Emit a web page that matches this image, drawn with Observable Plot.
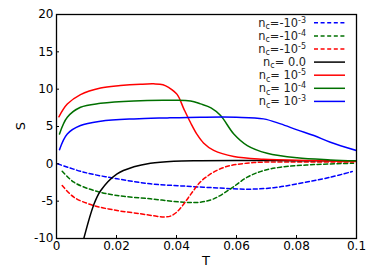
<!DOCTYPE html>
<html><head><meta charset="utf-8">
<script src="https://cdn.jsdelivr.net/npm/d3@7"></script>
<script src="https://cdn.jsdelivr.net/npm/@observablehq/plot@0.6"></script>
<style>body{margin:0;background:#fff}</style>
</head><body><div id="chart"></div><script>
// Data
const xTicks = [0, 0.02, 0.04, 0.06, 0.08, 0.1];
const yTicks = [-10, -5, 0, 5, 10, 15, 20];

const T_neg3 = [0.0004,0.0091,0.0202,0.0313,0.0413,0.0524,0.0636,0.0724,0.0802,0.0913,0.0986];
const S_neg3 = [0,-1.12,-2.0,-2.68,-2.95,-3.2,-3.4,-3.2,-2.68,-1.79,-1.03];
const T_neg4 = [0.0019,0.0058,0.0124,0.0202,0.0313,0.0424,0.048,0.0524,0.058,0.0636,0.069,0.0747,0.0858,0.099];
const S_neg4 = [-0.99,-2.46,-3.57,-4.24,-4.69,-5.14,-5.14,-4.69,-3.35,-1.79,-0.9,-0.45,-0.1,0.08];
const T_neg5 = [0.0019,0.0058,0.0124,0.0202,0.028,0.033,0.0358,0.038,0.040,0.042,0.044,0.046,0.048,0.0505,0.0524,0.055,0.058,0.0658,0.0747,0.099];
const S_neg5 = [-2.9,-4.47,-5.58,-6.25,-6.69,-7.0,-7.12,-7.0,-6.5,-5.6,-4.5,-3.4,-2.4,-1.6,-1.1,-0.6,-0.23,0.17,0.25,0.25];
const T_zero = [0.0091,0.0124,0.0147,0.0202,0.0258,0.0313,0.0391,0.048,0.06,0.08,0.1];
const S_zero = [-10,-5.5,-3.6,-1.34,-0.4,0.08,0.35,0.42,0.45,0.42,0.4];
const T_pos5 = [0.0008,0.0036,0.008,0.0147,0.0213,0.028,0.0324,0.0355,0.0375,0.0402,0.0424,0.0447,0.0469,0.049,0.0524,0.0591,0.069,0.0858,0.1];
const S_pos5 = [6.3,8.0,9.28,10.17,10.48,10.66,10.71,10.6,10.2,9.3,7.4,5.5,3.9,2.8,1.8,0.98,0.62,0.44,0.3];
const T_pos4 = [0.001,0.0036,0.008,0.0147,0.0258,0.0369,0.0447,0.048,0.0515,0.0547,0.0591,0.0636,0.0702,0.0802,0.0913,0.1];
const S_pos4 = [4.0,6.24,7.58,8.1,8.43,8.5,8.43,8.03,7.5,6.47,4.0,2.45,1.42,0.8,0.53,0.4];
const T_pos3 = [0.001,0.0036,0.008,0.0147,0.0258,0.0369,0.048,0.06,0.069,0.0747,0.0802,0.0858,0.0913,0.1];
const S_pos3 = [1.9,4.0,5.13,5.7,6.02,6.15,6.24,6.24,6.02,5.35,4.55,3.79,2.9,1.78];

const seriesT = [T_neg3, T_neg4, T_neg5, T_zero, T_pos5, T_pos4, T_pos3];
const seriesS = [S_neg3, S_neg4, S_neg5, S_zero, S_pos5, S_pos4, S_pos3];
const legendMain = ["=-10", "=-10", "=-10", "= 0.0", "= 10", "= 10", "= 10"];
const legendSup = ["-3", "-4", "-5", "", "-5", "-4", "-3"];
const colors = ["#0000ff", "#007000", "#ff0000", "#000000", "#ff0000", "#007000", "#0000ff"];
const dashed = [true, true, true, false, false, false, false];

const font = "DejaVu Sans, sans-serif";
const lineMarks = seriesT.map((T, i) => {
  const rows = T.map((t, j) => ({T: t, S: seriesS[i][j]}));
  return Plot.line(rows, {x: "T", y: "S", stroke: colors[i], strokeWidth: 1.5,
    strokeDasharray: dashed[i] ? "4,2.6" : null, curve: "catmull-rom", clip: true});
});

const W = 374, H = 280, mL = 56, mR = 18, mT = 14, mB = 42;
const chart = Plot.plot({
  width: W, height: H,
  marginLeft: mL, marginRight: mR, marginTop: mT, marginBottom: mB,
  style: {fontFamily: font, fontSize: "12px", color: "black", background: "white"},
  x: {domain: [0, 0.1]},
  y: {domain: [-10, 20]},
  marks: [
    ...lineMarks,
    Plot.tickX(xTicks, {x: d => d, insetTop: 221, stroke: "black", strokeWidth: 1}),
    Plot.tickY(yTicks, {y: d => d, insetRight: 297, stroke: "black", strokeWidth: 1}),
    Plot.axisX({ticks: xTicks, tickSize: 0, tickPadding: 3, tickFormat: d => String(d), label: null, fontSize: 12}),
    Plot.axisY({ticks: yTicks, tickSize: 0, tickPadding: 3, tickFormat: d => String(d), label: null, fontSize: 12}),
    Plot.frame({stroke: "black", strokeWidth: 1.3})
  ]
});

const svg = d3.select(chart);
// axis titles
svg.append("text").attr("x", mL + (W - mL - mR) / 2).attr("y", 265)
  .attr("text-anchor", "middle").attr("font-family", font).attr("font-size", 13).attr("fill", "black").text("T");
svg.append("text").attr("transform", `translate(25,${mT + (H - mT - mB) / 2}) rotate(-90)`)
  .attr("text-anchor", "middle").attr("font-family", font).attr("font-size", 13).attr("fill", "black").text("S");

// legend
legendMain.forEach((m, i) => {
  const y = 22.8 + i * 13.1;
  const t = svg.append("text").attr("x", 306).attr("y", y + 4).attr("text-anchor", "end")
    .attr("font-family", font).attr("font-size", 11.4).attr("fill", "#222");
  t.append("tspan").text("n");
  t.append("tspan").attr("dy", 2.3).attr("font-size", 8).text("c");
  t.append("tspan").attr("dy", -2.3).text(m);
  if (legendSup[i]) t.append("tspan").attr("dy", -4.3).attr("font-size", 8).text(legendSup[i]);
  svg.append("line").attr("x1", 314).attr("x2", 345).attr("y1", y).attr("y2", y)
    .attr("stroke", colors[i]).attr("stroke-width", 1.5)
    .attr("stroke-dasharray", dashed[i] ? "4,2.6" : null);
});

document.getElementById("chart").appendChild(chart);
</script></body></html>
